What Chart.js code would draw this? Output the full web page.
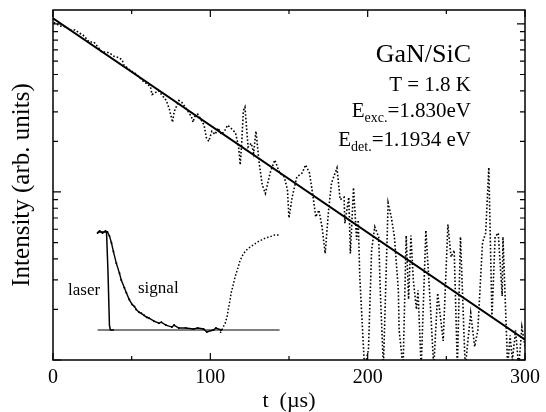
<!DOCTYPE html>
<html>
<head>
<meta charset="utf-8">
<script src="https://cdn.jsdelivr.net/npm/chart.js@4"></script>
<style>
  html, body { margin: 0; padding: 0; background: #fff; }
</style>
</head>
<body>
<canvas id="chart" width="546" height="412"></canvas>
<script>
// measured decay trace (t in µs, intensity in arb. units)
const decayT = [0.5, 3, 5, 8, 11, 14, 17, 19, 21, 23, 26, 28, 31, 34, 36, 39, 42, 44, 45, 47, 49, 52, 55, 58, 60, 62, 63, 65, 67, 69,
  72, 74, 76, 77, 80, 82, 84, 86, 88, 89, 90, 92, 94, 96, 97.5, 99, 101, 103, 105, 107, 109, 111, 113, 116, 118, 119, 120, 121, 122, 124,
  126, 127.5, 129, 131, 133, 135, 138, 141, 144, 147, 149, 150, 152, 155, 158.5, 160.5, 163, 165, 167, 169, 171, 173, 175, 177, 180.5, 182.5, 185, 185.5, 188, 189,
  191, 193, 194, 195, 198, 200.5, 202.5, 204.5, 207, 208, 210, 213, 215, 217, 219.5, 220, 222.5, 224.5, 226, 227.5, 229, 231, 232, 234, 237, 240,
  242, 244.5, 248, 251, 253, 255, 257, 259, 262, 265.5, 268, 270, 273, 275, 277, 279, 281, 283, 285.5, 286, 289, 290.5, 292, 294, 296, 298, 300];
const decayI = [102, 99, 97, 96, 92, 92, 88, 86, 82, 78, 78, 74, 68, 68, 67, 64, 63, 61, 57, 55, 53, 51, 48, 45, 44, 42, 38, 39, 40, 38,
  35, 31, 26, 30, 35, 34, 32, 30, 28, 26, 28, 29, 27, 25, 21, 20, 23, 22, 24, 22, 23, 25, 24, 22.5, 18.5, 14.5, 20, 30.5, 32, 18.5,
  19.5, 17, 23, 15, 11, 9.8, 13, 15.5, 13, 12.3, 10.3, 7, 9.3, 12.3, 13, 14.5, 13, 9.8, 7.1, 7.8, 6.2, 4.3, 7.5, 11.3, 13.9, 9, 9.3, 6.5, 9.3, 4.3,
  10.6, 5.2, 6.8, 3.1, 0.9, 1.15, 4.5, 6.2, 5.4, 2.6, 0.9, 8.6, 7.1, 5.4, 2.6, 1.5, 0.9, 5.5, 2.3, 5.5, 3, 2.0, 2.6, 0.9, 5.9, 2.0,
  0.9, 2.5, 1.3, 6.4, 4.1, 4.5, 0.9, 5.4, 0.9, 1.9, 1.2, 1.5, 5.0, 5.7, 14, 1.8, 5.4, 5.7, 2.4, 5.4, 0.9, 1.4, 1.0, 1.5, 0.9, 1.57, 1.2];

// exponential fit
const fitT = [0, 300];
const fitI = [108, 1.32];

// inset (own units: time 0..100, intensity 0..1)
const insetSignalT = [0, 1.1, 2.7, 4.3, 5.4, 6.5, 7.6, 8.7, 10.3, 12.0, 13.0, 14.7, 15.8, 17.4, 19.0, 20.2, 21.2, 22.8, 24, 25.5, 27, 28.3,
  31.0, 33.7, 35, 37.5, 40.8, 42, 44.6, 48.4, 52.7, 55, 58.2, 60, 63.6, 65, 67.9];
const insetSignalI = [0.99, 1.01, 0.99, 1.01, 1.0, 0.96, 0.89, 0.80, 0.68, 0.58, 0.51, 0.43, 0.38, 0.31, 0.26, 0.24, 0.21, 0.18, 0.17, 0.15, 0.13, 0.12,
  0.09, 0.07, 0.08, 0.05, 0.03, 0.05, 0.02, 0.02, 0.01, 0.02, 0.01, -0.02, 0, 0.02, 0];
const insetRiseT = [67.4, 69.0, 70.1, 71.2, 71.7, 72.8, 73.4, 74.5, 75.5, 77.2, 78.3, 79.9, 81.0, 82.6, 84.2, 86.4, 88.0, 90.2, 92.4, 94.6, 97.3, 100];
const insetRiseI = [-0.03, 0.03, 0.07, 0.14, 0.20, 0.31, 0.38, 0.46, 0.54, 0.64, 0.71, 0.77, 0.80, 0.83, 0.85, 0.88, 0.90, 0.92, 0.94, 0.95, 0.97, 0.97];
const laserT = [0, 4.9, 5.7, 6.5, 7.0, 9.0];
const laserI = [1.0, 1.0, 0.6, 0.05, 0, 0];
const baseT = [0, 100];
const baseI = [0, 0];

const xTicks = [0, 100, 200, 300];
const xMinor = [50, 150, 250];
const yMajor = [1, 10, 100];

const serif = '"Liberation Serif", "DejaVu Serif", serif';

function pts(xs, ys) {
  return xs.map((x, i) => ({ x: x, y: ys[i] }));
}

const framePlugin = {
  id: 'frame',
  afterDraw(chart) {
    const ctx = chart.ctx;
    const a = chart.chartArea;
    const sx = chart.scales.x, sy = chart.scales.y;
    ctx.save();
    ctx.strokeStyle = '#000';
    ctx.lineWidth = 1.5;
    ctx.strokeRect(a.left, a.top, a.right - a.left, a.bottom - a.top);

    ctx.lineWidth = 1.2;
    ctx.beginPath();
    xTicks.concat(xMinor).forEach(v => {
      const px = sx.getPixelForValue(v);
      const len = xTicks.includes(v) ? 7 : 4;
      ctx.moveTo(px, a.bottom); ctx.lineTo(px, a.bottom - len);
      ctx.moveTo(px, a.top); ctx.lineTo(px, a.top + len);
    });
    yMajor.forEach(d => {
      for (let k = 1; k <= 9; k++) {
        const v = d * k;
        if (v > sy.max) break;
        const py = sy.getPixelForValue(v);
        const len = k === 1 ? 8 : 5;
        ctx.moveTo(a.left, py); ctx.lineTo(a.left + len, py);
        ctx.moveTo(a.right, py); ctx.lineTo(a.right - len, py);
      }
    });
    ctx.stroke();

    // labels
    ctx.fillStyle = '#000';
    ctx.textBaseline = 'alphabetic';
    ctx.textAlign = 'right';
    const R = 471;
    ctx.font = '26px ' + serif;
    ctx.fillText('GaN/SiC', R, 62);
    ctx.font = '21px ' + serif;
    ctx.fillText('T = 1.8 K', R, 91);

    function subLine(main, sub, rest, y) {
      const big = '21px ' + serif, small = '14px ' + serif;
      ctx.font = big;
      const w1 = ctx.measureText(main).width, w3 = ctx.measureText(rest).width;
      ctx.font = small;
      const w2 = ctx.measureText(sub).width;
      let x = R - (w1 + w2 + w3);
      ctx.textAlign = 'left';
      ctx.font = big; ctx.fillText(main, x, y); x += w1;
      ctx.font = small; ctx.fillText(sub, x, y + 5); x += w2;
      ctx.font = big; ctx.fillText(rest, x, y);
    }
    subLine('E', 'exc.', '=1.830eV', 117);
    subLine('E', 'det.', '=1.1934 eV', 146);

    ctx.textAlign = 'left';
    ctx.font = '17px ' + serif;
    ctx.fillText('laser', 68, 295);
    ctx.fillText('signal', 138, 293);
    ctx.restore();
  }
};

new Chart(document.getElementById('chart').getContext('2d'), {
  type: 'line',
  data: {
    datasets: [
      {
        data: pts(decayT, decayI),
        borderColor: '#000', borderWidth: 1.6, borderDash: [1.6, 2],
        pointRadius: 0, tension: 0, xAxisID: 'x', yAxisID: 'y'
      },
      {
        data: pts(fitT, fitI),
        borderColor: '#000', borderWidth: 2,
        pointRadius: 0, tension: 0, xAxisID: 'x', yAxisID: 'y'
      },
      {
        data: pts(baseT, baseI),
        borderColor: '#000', borderWidth: 1,
        pointRadius: 0, xAxisID: 'x2', yAxisID: 'y2'
      },
      {
        data: pts(laserT, laserI),
        borderColor: '#000', borderWidth: 1.5,
        pointRadius: 0, tension: 0, xAxisID: 'x2', yAxisID: 'y2'
      },
      {
        data: pts(insetSignalT, insetSignalI),
        borderColor: '#000', borderWidth: 1.4,
        pointRadius: 1, pointBorderWidth: 0, pointBackgroundColor: '#000',
        tension: 0, xAxisID: 'x2', yAxisID: 'y2'
      },
      {
        data: pts(insetRiseT, insetRiseI),
        borderColor: '#000', borderWidth: 1.5, borderDash: [1.5, 2],
        pointRadius: 0, tension: 0, xAxisID: 'x2', yAxisID: 'y2'
      }
    ]
  },
  options: {
    responsive: false,
    animation: false,
    devicePixelRatio: 1,
    layout: { padding: { top: 10, right: 16, left: 0, bottom: 0 } },
    plugins: { legend: { display: false }, tooltip: { enabled: false } },
    scales: {
      x: {
        type: 'linear', min: 0, max: 300,
        afterBuildTicks: s => { s.ticks = xTicks.map(v => ({ value: v })); },
        afterFit: s => { s.height = 52; },
        ticks: { color: '#000', font: { family: serif, size: 20 }, padding: 6, maxRotation: 0 },
        grid: { display: false, drawTicks: false },
        border: { display: false },
        title: { display: true, text: 't  (µs)', color: '#000', font: { family: serif, size: 22, lineHeight: 1 }, padding: { top: 0, bottom: 0 } }
      },
      y: {
        type: 'logarithmic', min: 1, max: 121,
        afterFit: s => { s.width = 53; },
        ticks: { display: false },
        grid: { display: false, drawTicks: false },
        border: { display: false },
        title: { display: true, text: 'Intensity (arb. units)', color: '#000', font: { family: serif, size: 25, lineHeight: 1.2 }, padding: { top: 7, bottom: 0 } }
      },
      x2: { type: 'linear', display: false, min: -24.5, max: 234.8 },
      y2: { type: 'linear', display: false, min: -0.306, max: 3.265 }
    }
  },
  plugins: [framePlugin]
});
</script>
</body>
</html>
